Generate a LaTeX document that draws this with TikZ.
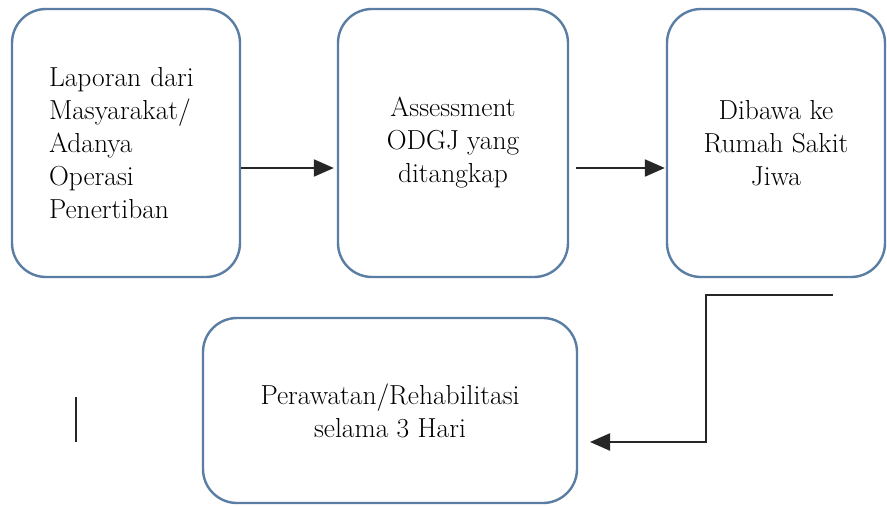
\documentclass[tikz,border=0pt]{standalone}
\usepackage{fontspec}
\usetikzlibrary{arrows.meta}
\definecolor{boxblue}{HTML}{5A7DA3}
\begin{document}
\begin{tikzpicture}[x=1pt,y=-1pt,
  box/.style={draw=boxblue, line width=2.4pt, rounded corners=34pt, fill=white,
    inner sep=0pt, font=\rmfamily\fontsize{27.5}{33}\selectfont, align=center},
  conn/.style={draw=black!85, line width=2.2pt, -{Triangle[length=20pt,width=17pt]}},
  plain/.style={draw=black!85, line width=2.2pt}]
\useasboundingbox (0,0) rectangle (887,506);
\fill[white] (0,0) rectangle (887,506);
% boxes
\node[box, minimum width=228pt, minimum height=268pt, text width=175pt, align=left]
  (b1) at (126,143) {\raisebox{-9pt}{\hspace*{10.5pt}\parbox{164pt}{Laporan dari\\Masyarakat/\\Adanya\\Operasi\\Penertiban}}};
\node[box, minimum width=230pt, minimum height=268pt] (b2) at (453,143)
  {\raisebox{-12pt}{\parbox{210pt}{\centering Assessment\\ODGJ yang\\ditangkap}}};
\node[box, minimum width=218pt, minimum height=268pt] (b3) at (776,143)
  {\raisebox{-12pt}{\parbox{200pt}{\centering Dibawa ke\\Rumah Sakit\\Jiwa}}};
\node[box, minimum width=374pt, minimum height=185pt] (b4) at (390,410.5)
  {\raisebox{-11pt}{\parbox{360pt}{\centering Perawatan/Rehabilitasi\\selama 3 Hari}}};
% connectors
\draw[conn, shorten >=3pt] (b1.east |- 0,168) -- (b2.west |- 0,168);
\draw[conn, shorten >=1pt, shorten <=7pt] (b2.east |- 0,168) -- (b3.west |- 0,168);
\coordinate (c1) at (833,295);
\coordinate (c2) at (706,295);
\coordinate (c3) at (706,442);
\coordinate (c4) at (590,442);
\draw[conn] (c1) -- (c2) -- (c3) -- (c4);
\coordinate (v1) at (76,397);
\coordinate (v2) at (76,442);
\draw[plain] (v1) -- (v2);
\end{tikzpicture}
\end{document}
